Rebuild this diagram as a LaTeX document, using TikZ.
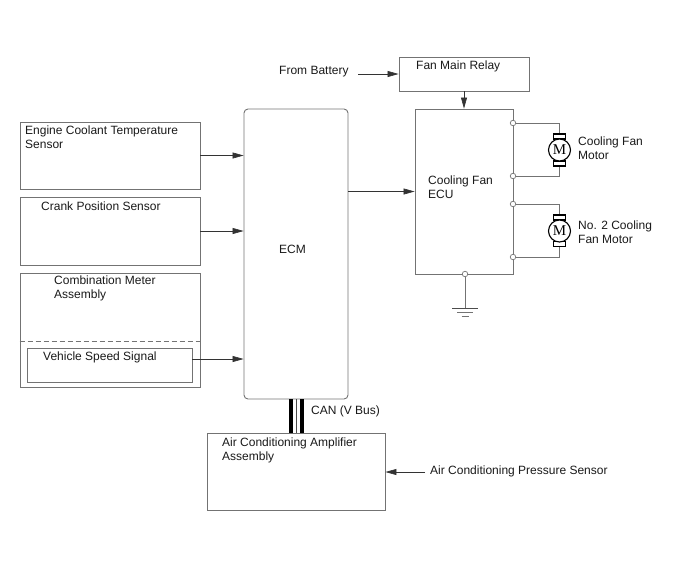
\documentclass[tikz,border=0pt]{standalone}
\usepackage{fontspec}
\setmainfont{Liberation Sans}
\newfontfamily\motorfont{Liberation Serif}
\definecolor{boxgray}{gray}{0.45}
\usetikzlibrary{arrows.meta}
\tikzset{
  unit/.style = {draw = boxgray, line width = 0.9pt, inner sep = 0pt},
  caption/.style = {anchor = west, align = left, inner sep = 0pt, text = black!90,
    font = \fontsize{12}{14}\selectfont},
  signal/.style = {-{Triangle[length = 11pt, width = 6pt]}, line width = 0.6pt, draw = black!80},
  wire/.style = {draw = boxgray, line width = 0.9pt},
  terminal/.style = {circle, draw = boxgray, fill = white, line width = 0.7pt, inner sep = 0pt, minimum size = 5.5pt},
  motor/.style = {circle, draw = black, fill = white, line width = 1.1pt, inner sep = 0pt, minimum size = 22pt,
    font = \fontsize{15}{15}\motorfont\selectfont},
  brush/.style = {draw = black, fill = white, line width = 1.1pt, inner sep = 0pt, minimum width = 12pt, minimum height = 5pt},
  bus/.style = {line width = 4.3pt, draw = black},
  earth/.style = {draw = black!70, line width = 0.9pt}
}
\begin{document}
\begin{tikzpicture}[x = 1pt, y = -1pt]
  \useasboundingbox (0, 0) rectangle (688, 560);

  % boxes
  \node[unit, minimum width = 130pt, minimum height = 34pt] (relay) at (464, 74) {};
  \node[unit, minimum width = 98pt, minimum height = 165pt] (ecu) at (464, 191.5) {};
  \node[unit, rounded corners = 4pt, minimum width = 104pt, minimum height = 290pt] (ecm) at (296, 254) {};
  \node[unit, minimum width = 180pt, minimum height = 67pt] (coolant) at (110, 155.5) {};
  \node[unit, minimum width = 180pt, minimum height = 68pt] (crank) at (110, 231) {};
  \node[unit, minimum width = 180pt, minimum height = 114pt] (meter) at (110, 330) {};
  \node[unit, minimum width = 165pt, minimum height = 34pt] (speed) at (109.5, 365) {};
  \node[unit, minimum width = 178pt, minimum height = 77pt] (amp) at (296, 471.5) {};
  \draw[boxgray, dashed, line width = 0.6pt, dash pattern = on 5pt off 3pt] (meter.west |- 0, 341) to (meter.east |- 0, 341);

  % labels
  \node[caption] (relaytext) at (416, 66.5) {Fan Main Relay};
  \node[caption] (battery) at (279, 71.5) {From Battery};
  \node[caption] (ecutext) at (428, 187.5) {Cooling Fan\\ECU};
  \node[caption] (ecmtext) at (279, 249.5) {ECM};
  \node[caption] (coolanttext) at (25, 137.5) {Engine Coolant Temperature\\Sensor};
  \node[caption] (cranktext) at (41, 206.5) {Crank Position Sensor};
  \node[caption] (metertext) at (54, 288.5) {Combination Meter\\Assembly};
  \node[caption] (speedtext) at (43, 357.5) {Vehicle Speed Signal};
  \node[caption] (amptext) at (222, 450.5) {Air Conditioning Amplifier\\Assembly};
  \node[caption] (cantext) at (311, 411.5) {CAN (V Bus)};
  \node[caption] (pressure) at (430, 471.5) {Air Conditioning Pressure Sensor};
  \node[caption] (fan1text) at (578, 148.5) {Cooling Fan\\Motor};
  \node[caption] (fan2text) at (578, 232.5) {No. 2 Cooling\\Fan Motor};

  % free ends of the signal lines
  \coordinate (batteryout) at (358, 74);
  \coordinate (pressureout) at (425, 472);
  \coordinate (speedout) at (192, 359);

  % input and output signals
  \draw[signal] (batteryout) to (relay.west |- batteryout);
  \draw[signal] (relay.south) to (ecu.north);
  \draw[signal] (coolant.east) to (ecm.west |- coolant.east);
  \draw[signal] (crank.east) to (ecm.west |- crank.east);
  \draw[signal] (speedout) to (ecm.west |- speedout);
  \draw[signal] (ecm.east |- ecu.west) to (ecu.west);
  \draw[signal] (pressureout) to (amp.east |- pressureout);

  % CAN lines
  \coordinate (bustop) at (296, 399);
  \coordinate (busbottom) at (296, 433);
  \draw[bus] ([xshift = -5pt] bustop) to ([xshift = -5pt] busbottom);
  \draw[bus] ([xshift = 6pt] bustop) to ([xshift = 6pt] busbottom);
  \draw[line width = 0.6pt, draw = black!70] (bustop) to (busbottom);

  % motors
  \node[brush] (fan1top) at (559.5, 136.5) {};
  \node[brush] (fan1bot) at (559.5, 163.5) {};
  \node[motor] (fan1) at (559.5, 150) {M};
  \node[brush] (fan2top) at (559.5, 217.5) {};
  \node[brush] (fan2bot) at (559.5, 244) {};
  \node[motor] (fan2) at (559.5, 231) {M};

  % terminals on the fan ECU
  \node[terminal] (t1) at (513, 123) {};
  \node[terminal] (t2) at (513, 176) {};
  \node[terminal] (t3) at (513, 204) {};
  \node[terminal] (t4) at (513, 257) {};
  \node[terminal] (t5) at (465, 274) {};

  \draw[wire] (t1) -| (fan1top);
  \draw[wire] (t2) -| (fan1bot);
  \draw[wire] (t3) -| (fan2top);
  \draw[wire] (t4) -| (fan2bot);

  % ground
  \coordinate (gnd) at (465, 308);
  \draw[wire] (t5) to (gnd);
  \draw[earth] ([xshift = -13pt] gnd) to ([xshift = 13pt] gnd);
  \draw[earth, boxgray] ([yshift = -4pt, xshift = -8pt] gnd) to ([yshift = -4pt, xshift = 8pt] gnd);
  \draw[earth, boxgray] ([yshift = -8pt, xshift = -3.5pt] gnd) to ([yshift = -8pt, xshift = 3.5pt] gnd);
\end{tikzpicture}
\end{document}
